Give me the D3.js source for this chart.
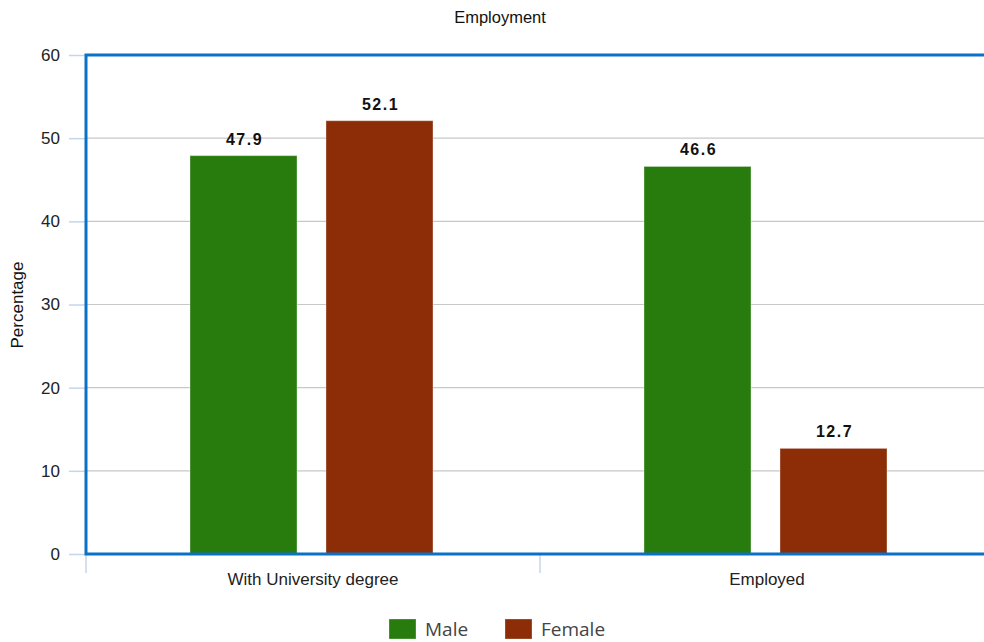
<!DOCTYPE html>
<html><head><meta charset="utf-8">
<script src="https://cdn.jsdelivr.net/npm/d3@7"></script>
<style>body{margin:0;background:#fff;overflow:hidden}</style>
</head><body>
<svg id="c" width="984" height="642"></svg>
<script>
const categories = ["With University degree", "Employed"];
const seriesNames = ["Male", "Female"];
const maleValues = [47.9, 46.6];
const femaleValues = [52.1, 12.7];
const yTicks = [0, 10, 20, 30, 40, 50, 60];
const colors = ["#287c0e", "#8c2d07"];

(function () {
const svg = d3.select("#c");
const pL = 86, pR = 994, pT = 55, pB = 554;
const FONT = "Liberation Sans, Arial, sans-serif";

const x = d3.scaleBand().domain(categories).range([pL, pR]).paddingInner(0).paddingOuter(0);
const xs = d3.scaleBand().domain(seriesNames).range([104, 347]).paddingInner(0.213);
const y = d3.scaleLinear().domain([0, 60]).range([pB, pT]);

// title
svg.append("text").attr("x", 500).attr("y", 23).attr("text-anchor", "middle")
  .attr("font-family", FONT).attr("font-size", 16.5).attr("fill", "#111").text("Employment");

// gridlines
svg.append("g").selectAll("line").data(yTicks).join("line")
  .attr("x1", pL).attr("x2", 984).attr("y1", d => y(d)).attr("y2", d => y(d))
  .attr("stroke", "#c8c8c8").attr("stroke-width", 1.2);

// y axis
const yAxis = svg.append("g").attr("transform", `translate(${pL},0)`)
  .call(d3.axisLeft(y).tickValues(yTicks).tickSize(17).tickPadding(9));
yAxis.select(".domain").remove();
yAxis.selectAll(".tick line").attr("stroke", "#c5d6ea").attr("stroke-width", 1.5);
yAxis.selectAll(".tick text").attr("font-family", FONT).attr("font-size", 17).attr("fill", "#222");

svg.append("text").attr("transform", "translate(23,305) rotate(-90)").attr("text-anchor", "middle")
  .attr("font-family", FONT).attr("font-size", 17).attr("fill", "#111").text("Percentage");

// x axis ticks at band boundaries
const bounds = categories.map(c => x(c));
svg.append("g").selectAll("line").data(bounds).join("line")
  .attr("x1", d => d).attr("x2", d => d).attr("y1", pB).attr("y2", 573)
  .attr("stroke", "#c5d6ea").attr("stroke-width", 1.5);
svg.append("g").selectAll("text").data(categories).join("text")
  .attr("x", d => x(d) + x.bandwidth() / 2).attr("y", 585)
  .attr("text-anchor", "middle").attr("font-family", FONT)
  .attr("font-size", 17).attr("fill", "#222").text(d => d);

// bars
const rows = categories.map((c, i) => ({cat: c, vals: [maleValues[i], femaleValues[i]]}));
const g = svg.append("g");
rows.forEach(r => {
  r.vals.forEach((v, j) => {
    const bx = x(r.cat) + xs(seriesNames[j]);
    g.append("rect").attr("x", bx).attr("y", y(v)).attr("width", xs.bandwidth()).attr("height", y(0) - y(v))
      .attr("fill", colors[j]).attr("stroke", "rgba(255,255,255,0.35)").attr("stroke-width", 1);
    g.append("text").attr("x", bx + xs.bandwidth() / 2 + 1).attr("y", y(v) - 11).attr("text-anchor", "middle")
      .attr("font-family", FONT).attr("font-weight", "bold").attr("font-size", 16)
      .attr("letter-spacing", 1.5).attr("fill", "#111").text(v.toFixed(1));
  });
});

// frame
svg.append("path").attr("d", `M${pR},${pT}H${pL}V${pB}H${pR}`)
  .attr("fill", "none").attr("stroke", "#0a72c6").attr("stroke-width", 3);

// legend
const lg = svg.append("g");
const legX = [389, 505];
seriesNames.forEach((s, j) => {
  lg.append("rect").attr("x", legX[j]).attr("y", 619).attr("width", 27).attr("height", 20)
    .attr("fill", colors[j]).attr("stroke", "rgba(255,255,255,0.3)");
  lg.append("text").attr("x", legX[j] + 36).attr("y", 636).attr("font-family", "Open Sans, DejaVu Sans, sans-serif")
    .attr("font-size", 19).attr("fill", "#444").text(s);
});
})();
</script>
</body></html>
